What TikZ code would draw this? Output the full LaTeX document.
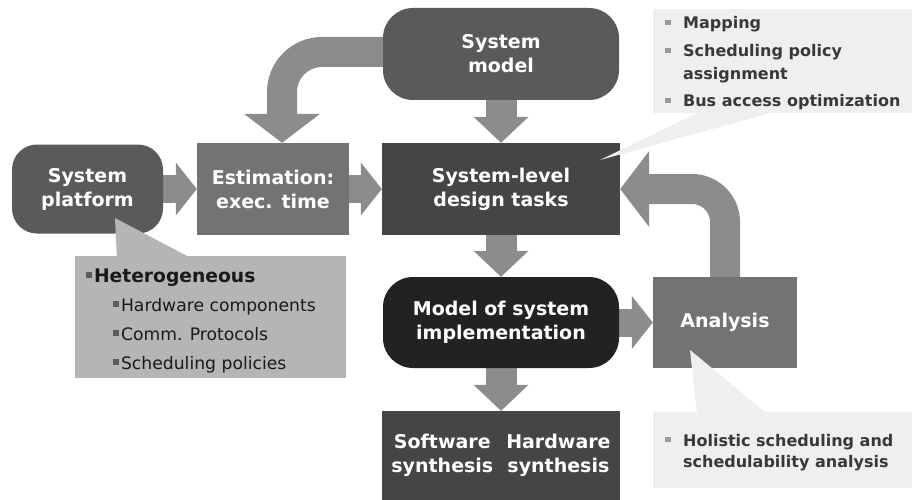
\documentclass[tikz,border=0pt]{standalone}
\usepackage{fontspec}
\setmainfont{DejaVu Sans}
\usetikzlibrary{arrows.meta,calc,backgrounds}

\definecolor{platgray}{HTML}{5A5A5A}
\definecolor{estgray}{HTML}{737373}
\definecolor{taskgray}{HTML}{454545}
\definecolor{implgray}{HTML}{222222}
\definecolor{arrowgray}{HTML}{8C8C8C}
\definecolor{notegray}{HTML}{B5B5B5}
\definecolor{notelight}{HTML}{EFEFEF}
\definecolor{notetext}{HTML}{383838}
\definecolor{dotgray}{HTML}{9A9A9A}
\definecolor{dotdark}{HTML}{5C5C5C}

\newcommand{\sqbullet}[1]{\textcolor{#1}{\rule[0.22em]{0.34em}{0.34em}}}

\tikzset{
  box/.style={text=white, font=\fontsize{19}{24}\selectfont\bfseries,
    align=center, inner sep=0pt},
  note/.style={inner sep=0pt},
  notetxt/.style={inner sep=0pt, anchor=base west},
  vflow/.style={draw=arrowgray, line width=31pt,
    -{Triangle[width=55pt,length=26pt,line width=0pt]}},
  hflow/.style={draw=arrowgray, line width=28pt,
    -{Triangle[width=53pt,length=21pt,line width=0pt]}},
  turnflow/.style={draw=arrowgray, line width=30pt,
    -{Triangle[width=76pt,length=29pt,line width=0pt]}},
}

\begin{document}
\begin{tikzpicture}[x=1pt,y=-1pt]
  \useasboundingbox (0,0) rectangle (912,500);

  % Boxes
  \node[box, fill=platgray, rounded corners=25pt, minimum width=151pt, minimum height=89pt]
    (plat) at (87.5,189) {System\\platform};
  \node[box, fill=estgray, minimum width=152pt, minimum height=92pt]
    (est) at (273,189) {Estimation:\\exec. time};
  \node[box, fill=taskgray, minimum width=238pt, minimum height=92pt]
    (sldt) at (501,189) {System-level\\design tasks};
  \node[box, fill=platgray, rounded corners=30pt, minimum width=236pt, minimum height=92pt]
    (model) at (501,54) {System\\model};
  \node[box, fill=implgray, rounded corners=30pt, minimum width=236pt, minimum height=91pt]
    (msi) at (501,322.5) {Model of system\\implementation};
  \node[box, fill=estgray, minimum width=144pt, minimum height=91pt]
    (ana) at (725,322.5) {Analysis};
  \node[box, fill=taskgray, minimum width=238pt, minimum height=90pt]
    (synth) at (501,456) {\begin{tabular}{@{}c@{\hspace{13pt}}c@{}}Software & Hardware\\ synthesis & synthesis\end{tabular}};

  % Arrows (behind the boxes)
  \begin{scope}[on background layer]
    \draw[hflow] (plat) -- (est);
    \draw[hflow] (est) -- (sldt);
    \draw[vflow] (model) -- (sldt);
    \draw[vflow] (sldt) -- (msi);
    \draw[vflow] (msi) -- (synth);
    \draw[hflow] (msi) -- (ana);
    \draw[turnflow, rounded corners=40pt] ($(model.west)+(10,-2)$) -| ($(est.north)+(9,0)$);
    \draw[turnflow, rounded corners=33pt] ($(ana.north)+(0,10)$) |- (sldt.east);
  \end{scope}

  % Notes
  \node[note, fill=notelight, minimum width=259pt, minimum height=104pt] (map) at (782.5,61) {};
  \coordinate (maptip) at (600,160);
  \fill[notelight] (maptip) -- ($(map.south west)+(44,0)$) -- ($(map.south west)+(117,0)$) -- cycle;
  \node[notetxt, text=notetext, font=\fontsize{16}{23}\selectfont\bfseries] (maptext) at (665,29)
    {\begin{tabular}[t]{@{}l@{\hspace{12.5pt}}l@{}}
       \sqbullet{dotgray} & Mapping\\[4.5pt]
       \sqbullet{dotgray} & Scheduling policy\\
                          & assignment\\[4.5pt]
       \sqbullet{dotgray} & Bus access optimization
     \end{tabular}};

  \node[note, fill=notegray, minimum width=271pt, minimum height=122pt] (het) at (210.5,317) {};
  \coordinate (hettip) at (115,218);
  \fill[notegray] (hettip) -- ($(het.north west)+(42,0)$) -- ($(het.north west)+(112,0)$) -- cycle;
  \node[notetxt, text=black!90, font=\fontsize{17.2}{29}\selectfont] (hettext) at (86,282)
    {\begin{tabular}[t]{@{}l@{}}
       \sqbullet{dotdark}\hspace{2pt}{\fontsize{18.7}{29}\selectfont\bfseries Heterogeneous}\\
       \hspace*{27pt}\sqbullet{dotdark}\hspace{2pt}Hardware components\\
       \hspace*{27pt}\sqbullet{dotdark}\hspace{2pt}Comm. Protocols\\
       \hspace*{27pt}\sqbullet{dotdark}\hspace{2pt}Scheduling policies
     \end{tabular}};

  \node[note, fill=notelight, minimum width=259pt, minimum height=76pt] (hol) at (782.5,450) {};
  \coordinate (holtip) at (690,350);
  \fill[notelight] (holtip) -- ($(hol.north west)+(44,0)$) -- ($(hol.north west)+(112,0)$) -- cycle;
  \node[notetxt, text=notetext, font=\fontsize{16}{21}\selectfont\bfseries] (holtext) at (665,446)
    {\begin{tabular}[t]{@{}l@{\hspace{12.5pt}}l@{}}
       \sqbullet{dotgray} & Holistic scheduling and\\
                          & schedulability analysis
     \end{tabular}};
\end{tikzpicture}
\end{document}
